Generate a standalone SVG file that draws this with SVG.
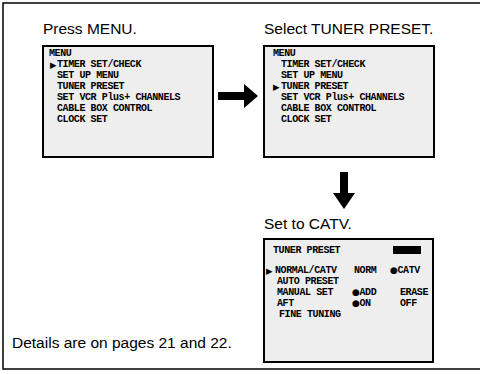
<svg xmlns="http://www.w3.org/2000/svg" width="480" height="374" viewBox="0 0 480 374">
<style>
.title{font-family:"Liberation Sans",Arial,sans-serif;font-size:15.5px;fill:#000}
.scr{fill:#eeeeee;stroke:#000;stroke-width:2}
.mono{font-family:"Liberation Mono","DejaVu Sans Mono",monospace;font-weight:bold;font-size:10px;letter-spacing:-0.4px;fill:#000}
.tri{font-family:"DejaVu Sans",sans-serif;font-size:8.5px;fill:#000}
.dot{font-family:"DejaVu Sans",sans-serif;font-size:9px}
</style>
<rect width="480" height="374" fill="#fff"/>
<g id="frame" fill="none" stroke="#000" stroke-width="1.5">
<path d="M480,3 H3 V369 H480"/>
</g>
<g id="step1">
<text class="title" x="43" y="34">Press MENU.</text>
<rect class="scr" x="43" y="46" width="170" height="111"/>
<text class="mono" x="49" y="56">MENU</text>
<text class="tri" x="50" y="67.5">▶</text>
<text class="mono" x="57" y="67">TIMER SET/CHECK</text>
<text class="mono" x="57" y="78">SET UP MENU</text>
<text class="mono" x="57" y="89">TUNER PRESET</text>
<text class="mono" x="57" y="100">SET VCR Plus+ CHANNELS</text>
<text class="mono" x="57" y="111">CABLE BOX CONTROL</text>
<text class="mono" x="57" y="122">CLOCK SET</text>
</g>
<g id="step2">
<text class="title" x="264" y="34">Select TUNER PRESET.</text>
<rect class="scr" x="264" y="46" width="170" height="111"/>
<text class="mono" x="273" y="56">MENU</text>
<text class="mono" x="281" y="67">TIMER SET/CHECK</text>
<text class="mono" x="281" y="78">SET UP MENU</text>
<text class="tri" x="273" y="89.5">▶</text>
<text class="mono" x="281" y="89">TUNER PRESET</text>
<text class="mono" x="281" y="100">SET VCR Plus+ CHANNELS</text>
<text class="mono" x="281" y="111">CABLE BOX CONTROL</text>
<text class="mono" x="281" y="122">CLOCK SET</text>
</g>
<g id="step3">
<text class="title" x="264" y="229">Set to CATV.</text>
<rect class="scr" x="264" y="239" width="169" height="123"/>
<text class="mono" x="273" y="253">TUNER PRESET</text>
<rect x="393" y="246" width="28" height="8" fill="#000"/>
<text class="tri" x="266" y="273.5">▶</text>
<text class="mono" x="275" y="273">NORMAL/CATV</text>
<text class="mono" x="354" y="273">NORM</text>
<text class="mono" x="390" y="273"><tspan class="dot">●</tspan>CATV</text>
<text class="mono" x="277" y="284">AUTO PRESET</text>
<text class="mono" x="277" y="295">MANUAL SET</text>
<text class="mono" x="352" y="295"><tspan class="dot">●</tspan>ADD</text>
<text class="mono" x="400" y="295">ERASE</text>
<text class="mono" x="277" y="306">AFT</text>
<text class="mono" x="352" y="306"><tspan class="dot">●</tspan>ON</text>
<text class="mono" x="400" y="306">OFF</text>
<text class="mono" x="279" y="317">FINE TUNING</text>
</g>
<g id="connectors" fill="#000">
<path d="M218,92 H244 V84 L258,96 L244,108 V100 H218 Z"/>
<path d="M340,172 H348 V193 H355 L344,209 L333,193 H340 Z"/>
</g>
<g id="note">
<text class="title" x="12" y="348">Details are on pages 21 and 22.</text>
</g>
</svg>
